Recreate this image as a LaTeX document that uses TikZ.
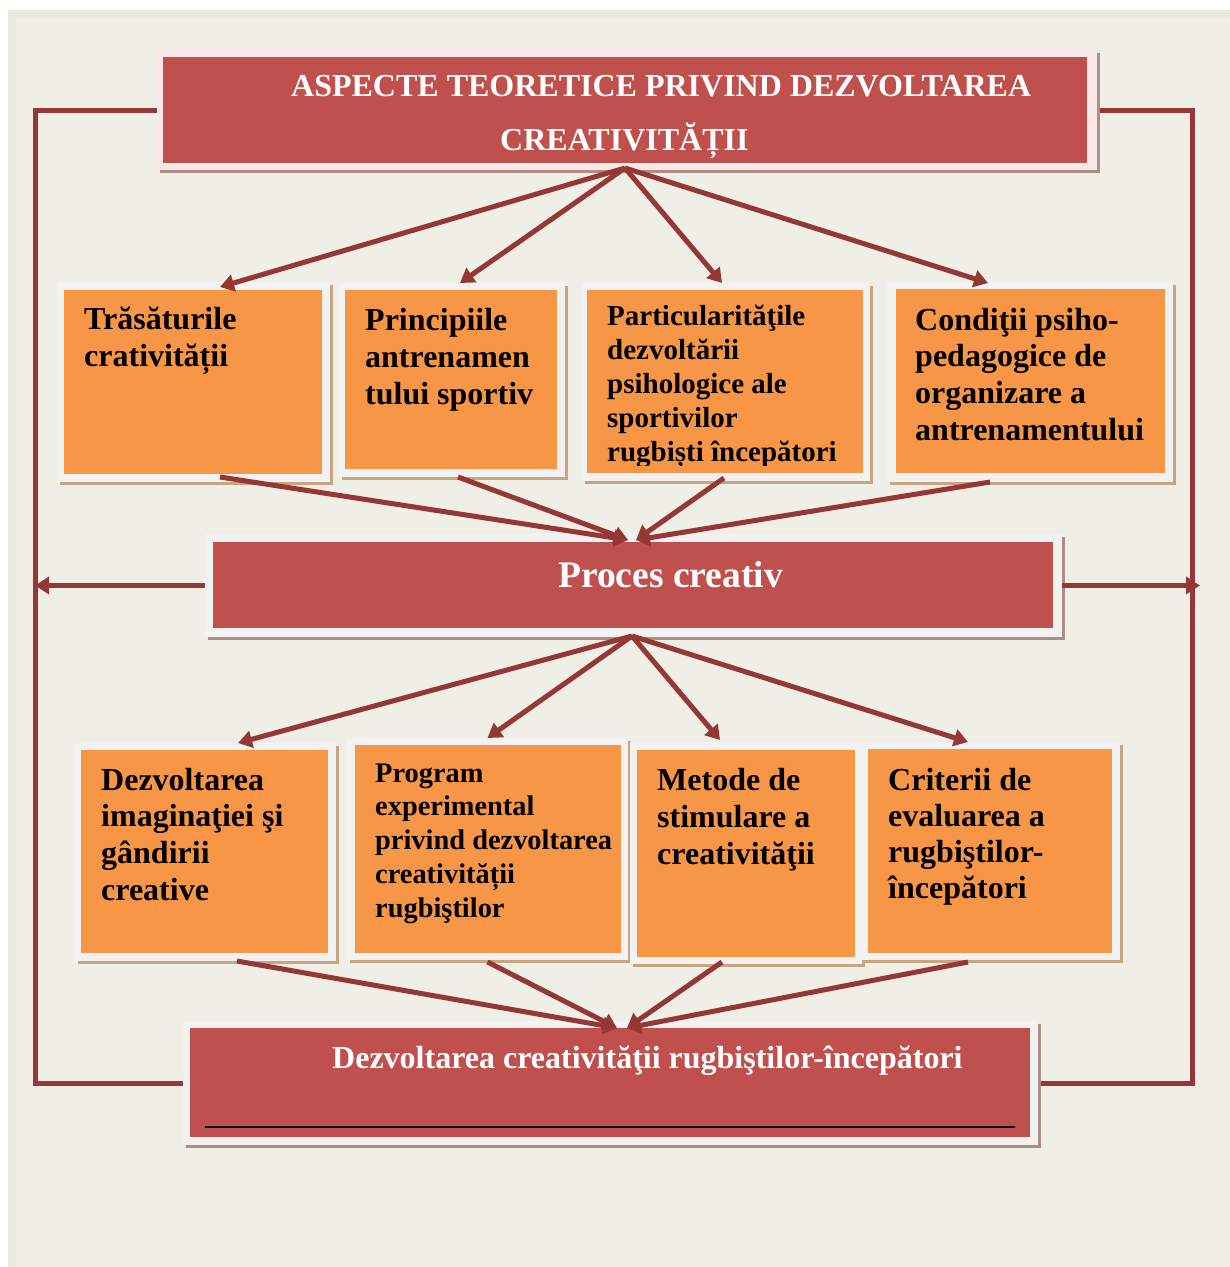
\documentclass[tikz,border=0pt]{standalone}
\usepackage{fontspec}
\setmainfont{Liberation Serif}
\usetikzlibrary{arrows.meta}
\definecolor{bgin}{HTML}{EFEEE7}
\definecolor{bgband}{HTML}{E8ECDC}
\definecolor{redbox}{HTML}{C0504D}
\definecolor{orbox}{HTML}{F79646}
\definecolor{pinkframe}{HTML}{F9E8EA}
\definecolor{grayframe}{HTML}{F2F2F2}
\definecolor{redshadow}{HTML}{AF8C86}
\definecolor{orshadow}{HTML}{C9A47F}
\definecolor{conn}{HTML}{953735}
\begin{document}
\begin{tikzpicture}[x=1pt,y=-1pt,
  boxframe/.style={inner sep=0pt, outer sep=0pt, draw=none, fill=grayframe},
  arr/.style={draw=conn, line width=5pt, -{Triangle[length=14pt,width=17pt]}},
  loopline/.style={draw=conn, line width=5pt},
  wt/.style={text=white, font=\bfseries\fontsize{32}{32}\selectfont, inner sep=0pt, anchor=base west},
  bt/.style={text=black, font=\bfseries\fontsize{32}{37}\selectfont, inner sep=0pt, anchor=base west},
  bts/.style={bt, font=\bfseries\fontsize{29}{34}\selectfont},
]
\useasboundingbox (0,0) rectangle (1230,1267);
\fill[white] (0,0) rectangle (1230,1267);
\fill[bgband] (8,10) rectangle (1230,1267);
\fill[bgin] (16,18) rectangle (1230,1267);

% ---------- loops (behind boxes)
\draw[loopline] (157,110) -- (35,110) |- (183,1083);
\draw[loopline] (1097,110) -- (1192,110) |- (1038,1083);

% ---------- top box
\fill[redshadow] (160,53) rectangle (1100,173);
\node[boxframe, fill=pinkframe, minimum width=940pt, minimum height=120pt] (top) at (627,110) {};
\fill[redbox] (163,57) rectangle (1087,163);
\node[wt] (toptA) at (291,96) {ASPECTE TEORETICE PRIVIND DEZVOLTAREA};
\node[wt] (toptB) at (500,150) {CREATIVITĂȚII};

% ---------- proces creativ
\fill[redshadow] (208,537) rectangle (1065,640);
\node[boxframe, minimum width=857pt, minimum height=103pt] (proc) at (633.5,585.5) {};
\fill[redbox] (213,542) rectangle (1053,628);
\node[wt, font=\bfseries\fontsize{37.5}{37.5}\selectfont] (proct) at (558,587) {Proces creativ};

% ---------- bottom box
\fill[redshadow] (186,1024) rectangle (1041,1148);
\node[boxframe, minimum width=855pt, minimum height=124pt] (bot) at (610.5,1083) {};
\fill[redbox] (190,1028) rectangle (1030,1137);
\node[wt, font=\bfseries\fontsize{32}{32}\selectfont] (bott) at (332,1068) {Dezvoltarea creativităţii rugbiştilor-începători};
\draw[black, line width=1.5pt] (205,1127) -- (1015,1127);

% ---------- row 1
\fill[orshadow] (60,285) rectangle (333,485);
\node[boxframe, minimum width=273pt, minimum height=200pt] (b1) at (193.5,382) {};
\fill[orbox] (64,290) rectangle (322,474);
\foreach \t [count=\i] in {Trăsăturile, crativității}
  \node[bt] (b1t\i) at (84,{329+37*(\i-1)}) {\t};

\fill[orshadow] (342,286) rectangle (568,480);
\node[boxframe, minimum width=226pt, minimum height=194pt] (b2) at (452,380) {};
\fill[orbox] (345,290) rectangle (557,469);
\foreach \t [count=\i] in {Principiile, antrenamen, tului sportiv}
  \node[bt] (b2t\i) at (365,{330+37*(\i-1)}) {\t};

\fill[orshadow] (585,286) rectangle (873,484);
\node[boxframe, minimum width=288pt, minimum height=198pt] (b3) at (726,382) {};
\fill[orbox] (587,290) rectangle (863,473);
\begin{scope}
\clip (587,290) rectangle (863,465);
\foreach \t [count=\i] in {Particularităţile, dezvoltării, psihologice ale, sportivilor, rugbiști începători}
  \node[bts] (b3t\i) at (607,{325+34.2*(\i-1)}) {\t};
\end{scope}

\fill[orshadow] (890,285) rectangle (1176,485);
\node[boxframe, minimum width=286pt, minimum height=200pt] (b4) at (1030,382) {};
\fill[orbox] (896,289) rectangle (1165,473);
\foreach \t [count=\i] in {Condiţii psiho-, pedagogice de, organizare a, antrenamentului}
  \node[bt] (b4t\i) at (915,{330+36.7*(\i-1)}) {\t};

% ---------- row 2
\fill[orshadow] (78,746) rectangle (339,964);
\node[boxframe, minimum width=261pt, minimum height=218pt] (b5) at (205.5,852) {};
\fill[orbox] (81,750) rectangle (328,953);
\foreach \t [count=\i] in {Dezvoltarea, imaginaţiei şi, gândirii, creative}
  \node[bt] (b5t\i) at (101,{790+36.7*(\i-1)}) {\t};

\fill[orshadow] (350,741) rectangle (631,963);
\node[boxframe, minimum width=281pt, minimum height=222pt] (b6) at (487.5,849) {};
\fill[orbox] (355,745) rectangle (621,953);
\foreach \t [count=\i] in {Program, experimental, privind dezvoltarea, creativității, rugbiştilor}
  \node[bts, font=\bfseries\fontsize{28.4}{34}\selectfont] (b6t\i) at (375,{782+33.8*(\i-1)}) {\t};

\fill[orshadow] (633,745) rectangle (865,967);
\node[boxframe, minimum width=232pt, minimum height=222pt] (b7) at (746,853) {};
\fill[orbox] (637,750) rectangle (855,957);
\foreach \t [count=\i] in {Metode de, stimulare a, creativităţii}
  \node[bt] (b7t\i) at (657,{790+37*(\i-1)}) {\t};

\fill[orshadow] (865,745) rectangle (1123,963);
\node[boxframe, minimum width=258pt, minimum height=218pt] (b8) at (991,851) {};
\fill[orbox] (868,749) rectangle (1112,953);
\foreach \t [count=\i] in {Criterii de, evaluarea a, rugbiştilor-, începători}
  \node[bt] (b8t\i) at (888,{790+36*(\i-1)}) {\t};

% ---------- arrows: top -> row 1
\draw[arr] ([xshift=-2pt,yshift=2pt]top.south) -- ([xshift=26.5pt,yshift=-5pt]b1.north);
\draw[arr] ([xshift=-2pt,yshift=2pt]top.south) -- ([xshift=8pt]b2.north);
\draw[arr] ([xshift=-2pt,yshift=2pt]top.south) -- ([xshift=-4pt]b3.north);
\draw[arr] ([xshift=-2pt,yshift=2pt]top.south) -- ([xshift=-42pt,yshift=-1pt]b4.north);

% ---------- row 1 -> proces
\draw[arr] ([xshift=26.5pt,yshift=5pt]b1.south) -- ([xshift=-5.5pt,yshift=-6pt]proc.north);
\draw[arr] ([xshift=6pt]b2.south) -- ([xshift=-5.5pt,yshift=-6pt]proc.north);
\draw[arr] ([xshift=-2pt,yshift=3pt]b3.south) -- ([xshift=2.5pt,yshift=-6pt]proc.north);
\draw[arr] ([xshift=-40pt]b4.south) -- ([xshift=2.5pt,yshift=-6pt]proc.north);

% ---------- proces -> sides
\coordinate (Lend) at (35,585.5);
\coordinate (Rend) at (1200,585.5);
\draw[arr] (proc.west) -- (Lend);
\draw[arr] (proc.east) -- (Rend);

% ---------- proces -> row 2
\draw[arr] ([xshift=-1.5pt,yshift=1pt]proc.south) -- ([xshift=32.5pt]b5.north);
\draw[arr] ([xshift=-1.5pt,yshift=1pt]proc.south) -- (b6.north);
\draw[arr] ([xshift=-1.5pt,yshift=1pt]proc.south) -- ([xshift=-26pt,yshift=2pt]b7.north);
\draw[arr] ([xshift=-1.5pt,yshift=1pt]proc.south) -- ([xshift=-23pt]b8.north);

% ---------- row 2 -> bottom
\draw[arr] ([xshift=31.5pt]b5.south) -- ([xshift=6.5pt,yshift=-7pt]bot.north);
\draw[arr] ([yshift=-2pt]b6.south) -- ([xshift=6.5pt,yshift=-7pt]bot.north);
\draw[arr] ([xshift=-24pt,yshift=2pt]b7.south) -- ([xshift=16.5pt,yshift=-7pt]bot.north);
\draw[arr] ([xshift=-23pt,yshift=-2pt]b8.south) -- ([xshift=16.5pt,yshift=-7pt]bot.north);
\end{tikzpicture}
\end{document}
